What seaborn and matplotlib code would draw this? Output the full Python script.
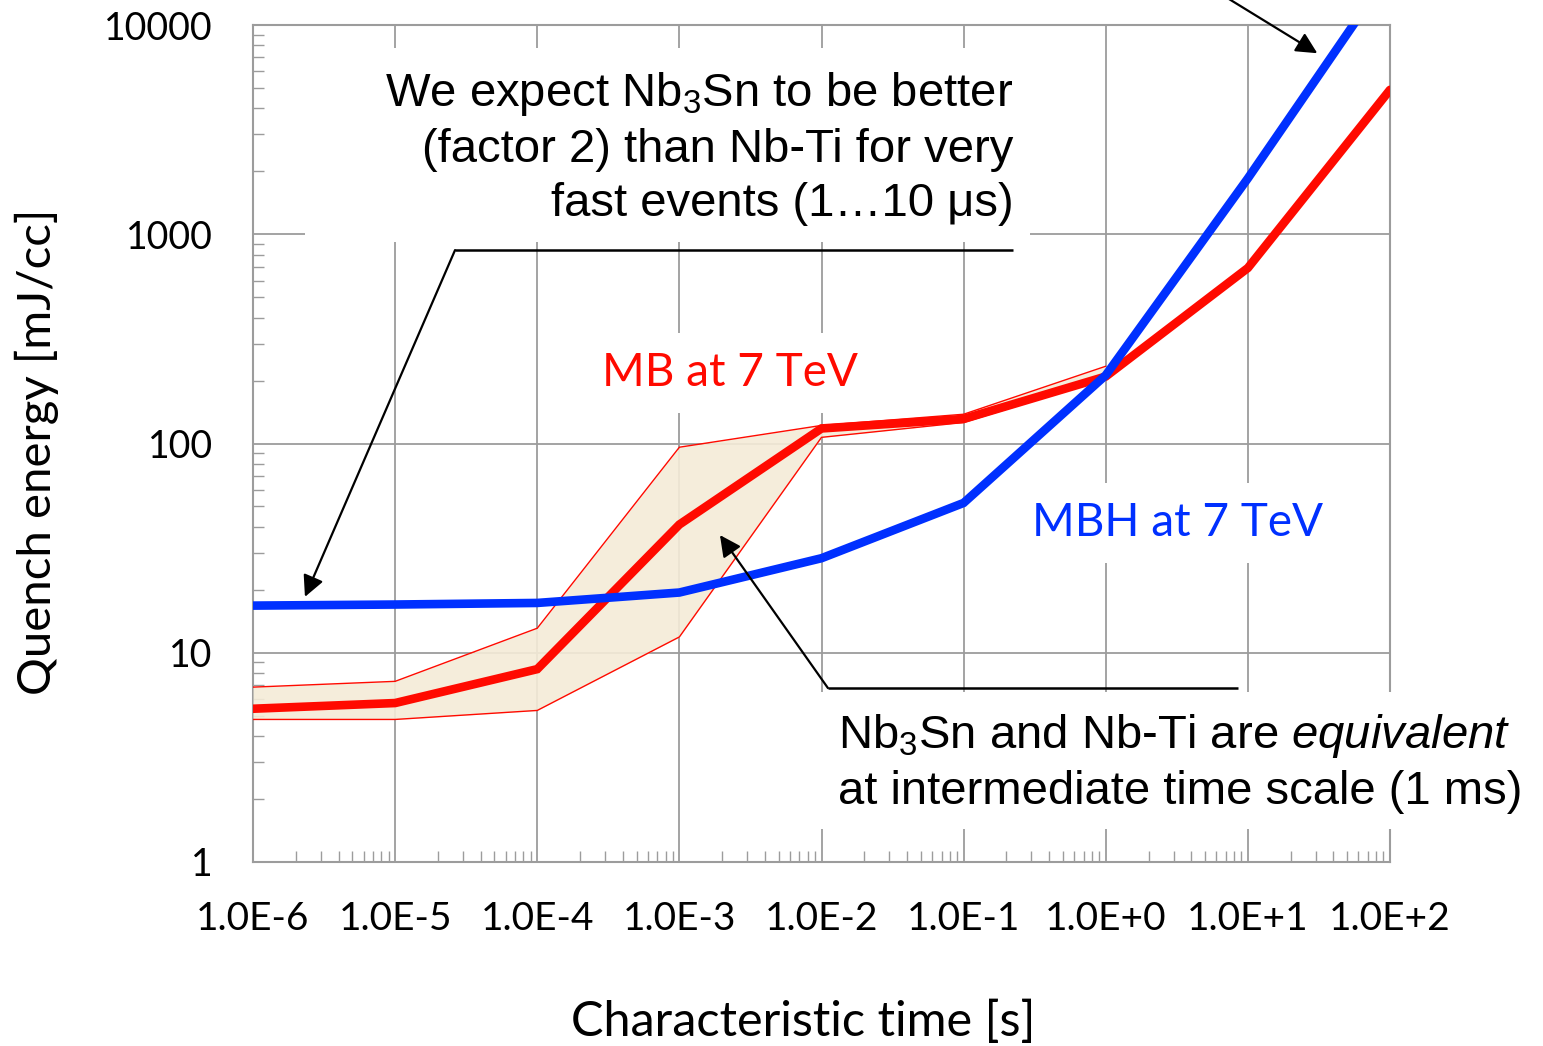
import numpy as np
import pandas as pd
import matplotlib
matplotlib.use("Agg")
import matplotlib.pyplot as plt
import seaborn as sns
from matplotlib.patches import Rectangle
from matplotlib.ticker import FixedLocator, FuncFormatter, LogLocator, NullFormatter

# ---------------- data ----------------
time_s = [1e-6, 1e-5, 1e-4, 1e-3, 1e-2, 1e-1, 1e0, 1e1, 1e2]
mb_energy = [5.4, 5.75, 8.35, 41.0, 118.0, 131.0, 209.0, 690.0, 4900.0]
mbh_energy = [16.8, 17.0, 17.3, 19.4, 28.3, 52.0, 212.0, 1850.0, 18000.0]

band_time = [1e-6, 1e-5, 1e-4, 1e-3, 1e-2, 1e-1, 1e0]
band_upper = [6.85, 7.3, 13.1, 96.0, 122.0, 138.0, 234.0]
band_lower = [4.8, 4.8, 5.3, 11.9, 107.0, 126.0, 205.0]

x_decades = [-6, -5, -4, -3, -2, -1, 0, 1, 2]
y_ticks = [1, 10, 100, 1000, 10000]

# ---------------- style ----------------
sns.set_style("white")
plt.rcParams["font.family"] = ["Lato", "DejaVu Sans"]
plt.rcParams["text.color"] = "black"
plt.rcParams["axes.labelcolor"] = "black"
plt.rcParams["xtick.color"] = "black"
plt.rcParams["ytick.color"] = "black"
plt.rcParams["mathtext.fontset"] = "custom"
plt.rcParams["mathtext.rm"] = "Liberation Sans"
plt.rcParams["mathtext.it"] = "Liberation Sans:italic"
plt.rcParams["mathtext.bf"] = "Liberation Sans:bold"

RED = "#ff0a00"
BLUE = "#0030ff"
GRID = "#9c9c9c"

fig = plt.figure(figsize=(15.43, 10.46), dpi=100)
ax = fig.add_axes([253 / 1543, 1 - 862 / 1046, (1390 - 253) / 1543, (862 - 25) / 1046])

df = pd.DataFrame({
    "time": time_s * 2,
    "energy": mb_energy + mbh_energy,
    "series": ["MB"] * len(time_s) + ["MBH"] * len(time_s),
})

# uncertainty band for MB
ax.fill_between(band_time, band_lower, band_upper, color="#f4ecd8", alpha=0.9,
                zorder=3, linewidth=0)
ax.plot(band_time, band_upper, color=RED, lw=1.0, zorder=3.5)
ax.plot(band_time, band_lower, color=RED, lw=1.0, zorder=3.5)

sns.lineplot(data=df[df.series == "MB"], x="time", y="energy", color=RED,
             linewidth=6.2, ax=ax, legend=False, sort=False, zorder=4,
             solid_joinstyle="miter")
sns.lineplot(data=df[df.series == "MBH"], x="time", y="energy", color=BLUE,
             linewidth=6.2, ax=ax, legend=False, sort=False, zorder=4.2,
             solid_joinstyle="miter")

ax.set_xscale("log")
ax.set_yscale("log")
ax.set_xlim(1e-6, 1e2)
ax.set_ylim(1, 1e4)

# ticks
ax.xaxis.set_major_locator(FixedLocator([10.0 ** e for e in x_decades]))
ax.xaxis.set_major_formatter(FuncFormatter(lambda v, p: f"1.0E{int(round(np.log10(v))):+d}"))
ax.yaxis.set_major_locator(FixedLocator(y_ticks))
ax.yaxis.set_major_formatter(FuncFormatter(lambda v, p: f"{int(round(v))}"))
ax.xaxis.set_minor_locator(LogLocator(base=10, subs=np.arange(2, 10), numticks=100))
ax.yaxis.set_minor_locator(LogLocator(base=10, subs=np.arange(2, 10), numticks=100))
ax.xaxis.set_minor_formatter(NullFormatter())
ax.yaxis.set_minor_formatter(NullFormatter())

ax.tick_params(axis="both", which="major", length=0, labelsize=27, labelcolor="black")
ax.tick_params(axis="x", which="major", labelsize=28)
ax.tick_params(axis="y", which="major", pad=29)
ax.tick_params(axis="x", which="major", pad=28)
ax.tick_params(axis="both", which="minor", direction="in", length=8, width=1.0,
               color=GRID, bottom=True, left=True, top=False, right=False)

ax.grid(True, which="major", color=GRID, lw=1.3)
ax.grid(False, which="minor")
for s in ax.spines.values():
    s.set_color(GRID)
    s.set_linewidth(1.5)

ax.set_xlabel("Characteristic time [s]", fontsize=35, va="center", color="black")
ax.set_ylabel("Quench energy [mJ/cc]", fontsize=34, va="center", color="black")
ax.xaxis.set_label_coords((803 - 253) / 1137, (862 - 1022) / 837)
ax.yaxis.set_label_coords((37 - 253) / 1137, (862 - 452) / 837)

# white boxes behind the annotation texts
ax.add_patch(Rectangle((2.32e-6, 917), 0.294 - 2.32e-6, 7745 - 917, facecolor="white",
                       edgecolor="none", zorder=2.6))
ax.add_patch(Rectangle((9.0e-3, 1.44), 1140 - 9.0e-3, 6.49 - 1.44, facecolor="white",
                       edgecolor="none", zorder=2.6, clip_on=False))

ARIAL = ["Liberation Sans", "DejaVu Sans"]
ax.text(0.223, 2578,
        "We expect Nb$_3$Sn to be better\n(factor 2) than Nb-Ti for very\nfast events (1\u202610 \u03bcs)",
        ha="right", va="center", fontsize=34, family=ARIAL, linespacing=1.3, zorder=6,
        multialignment="right", color="black")
ax.text(0.0131, 2.97,
        "Nb$_3$Sn and Nb-Ti are $\\mathit{equivalent}$\nat intermediate time scale (1 ms)",
        ha="left", va="center", fontsize=34, family=ARIAL, linespacing=1.3, zorder=6,
        multialignment="left", color="black")

ax.text(2.28e-3, 217, "MB at 7 TeV", color=RED, fontsize=33, ha="center", va="center",
        zorder=5, bbox=dict(facecolor="white", edgecolor="none", pad=14))
ax.text(3.18, 41.7, "MBH at 7 TeV", color=BLUE, fontsize=33, ha="center", va="center",
        zorder=5, bbox=dict(facecolor="white", edgecolor="none", pad=14))

# connector lines and arrows
arrow_kw = dict(arrowstyle="-|>", mutation_scale=32, lw=1.6, color="black",
                shrinkA=0, shrinkB=0)
ax.plot([0.2228, 2.64e-5], [840, 840], color="black", lw=1.8, zorder=6, clip_on=False,
        solid_capstyle="butt")
ax.annotate("", xy=(2.32e-6, 18.5), xytext=(2.64e-5, 840), arrowprops=arrow_kw, zorder=6)

ax.plot([8.55, 0.0111], [6.78, 6.78], color="black", lw=1.8, zorder=6, clip_on=False,
        solid_capstyle="butt")
ax.annotate("", xy=(1.93e-3, 36.5), xytext=(0.0111, 6.78), arrowprops=arrow_kw, zorder=6)

ax.annotate("", xy=(30.8, 7330), xytext=(6.0, 14500), arrowprops=arrow_kw, zorder=6,
            annotation_clip=False)

fig.savefig("out.png", dpi=100)
